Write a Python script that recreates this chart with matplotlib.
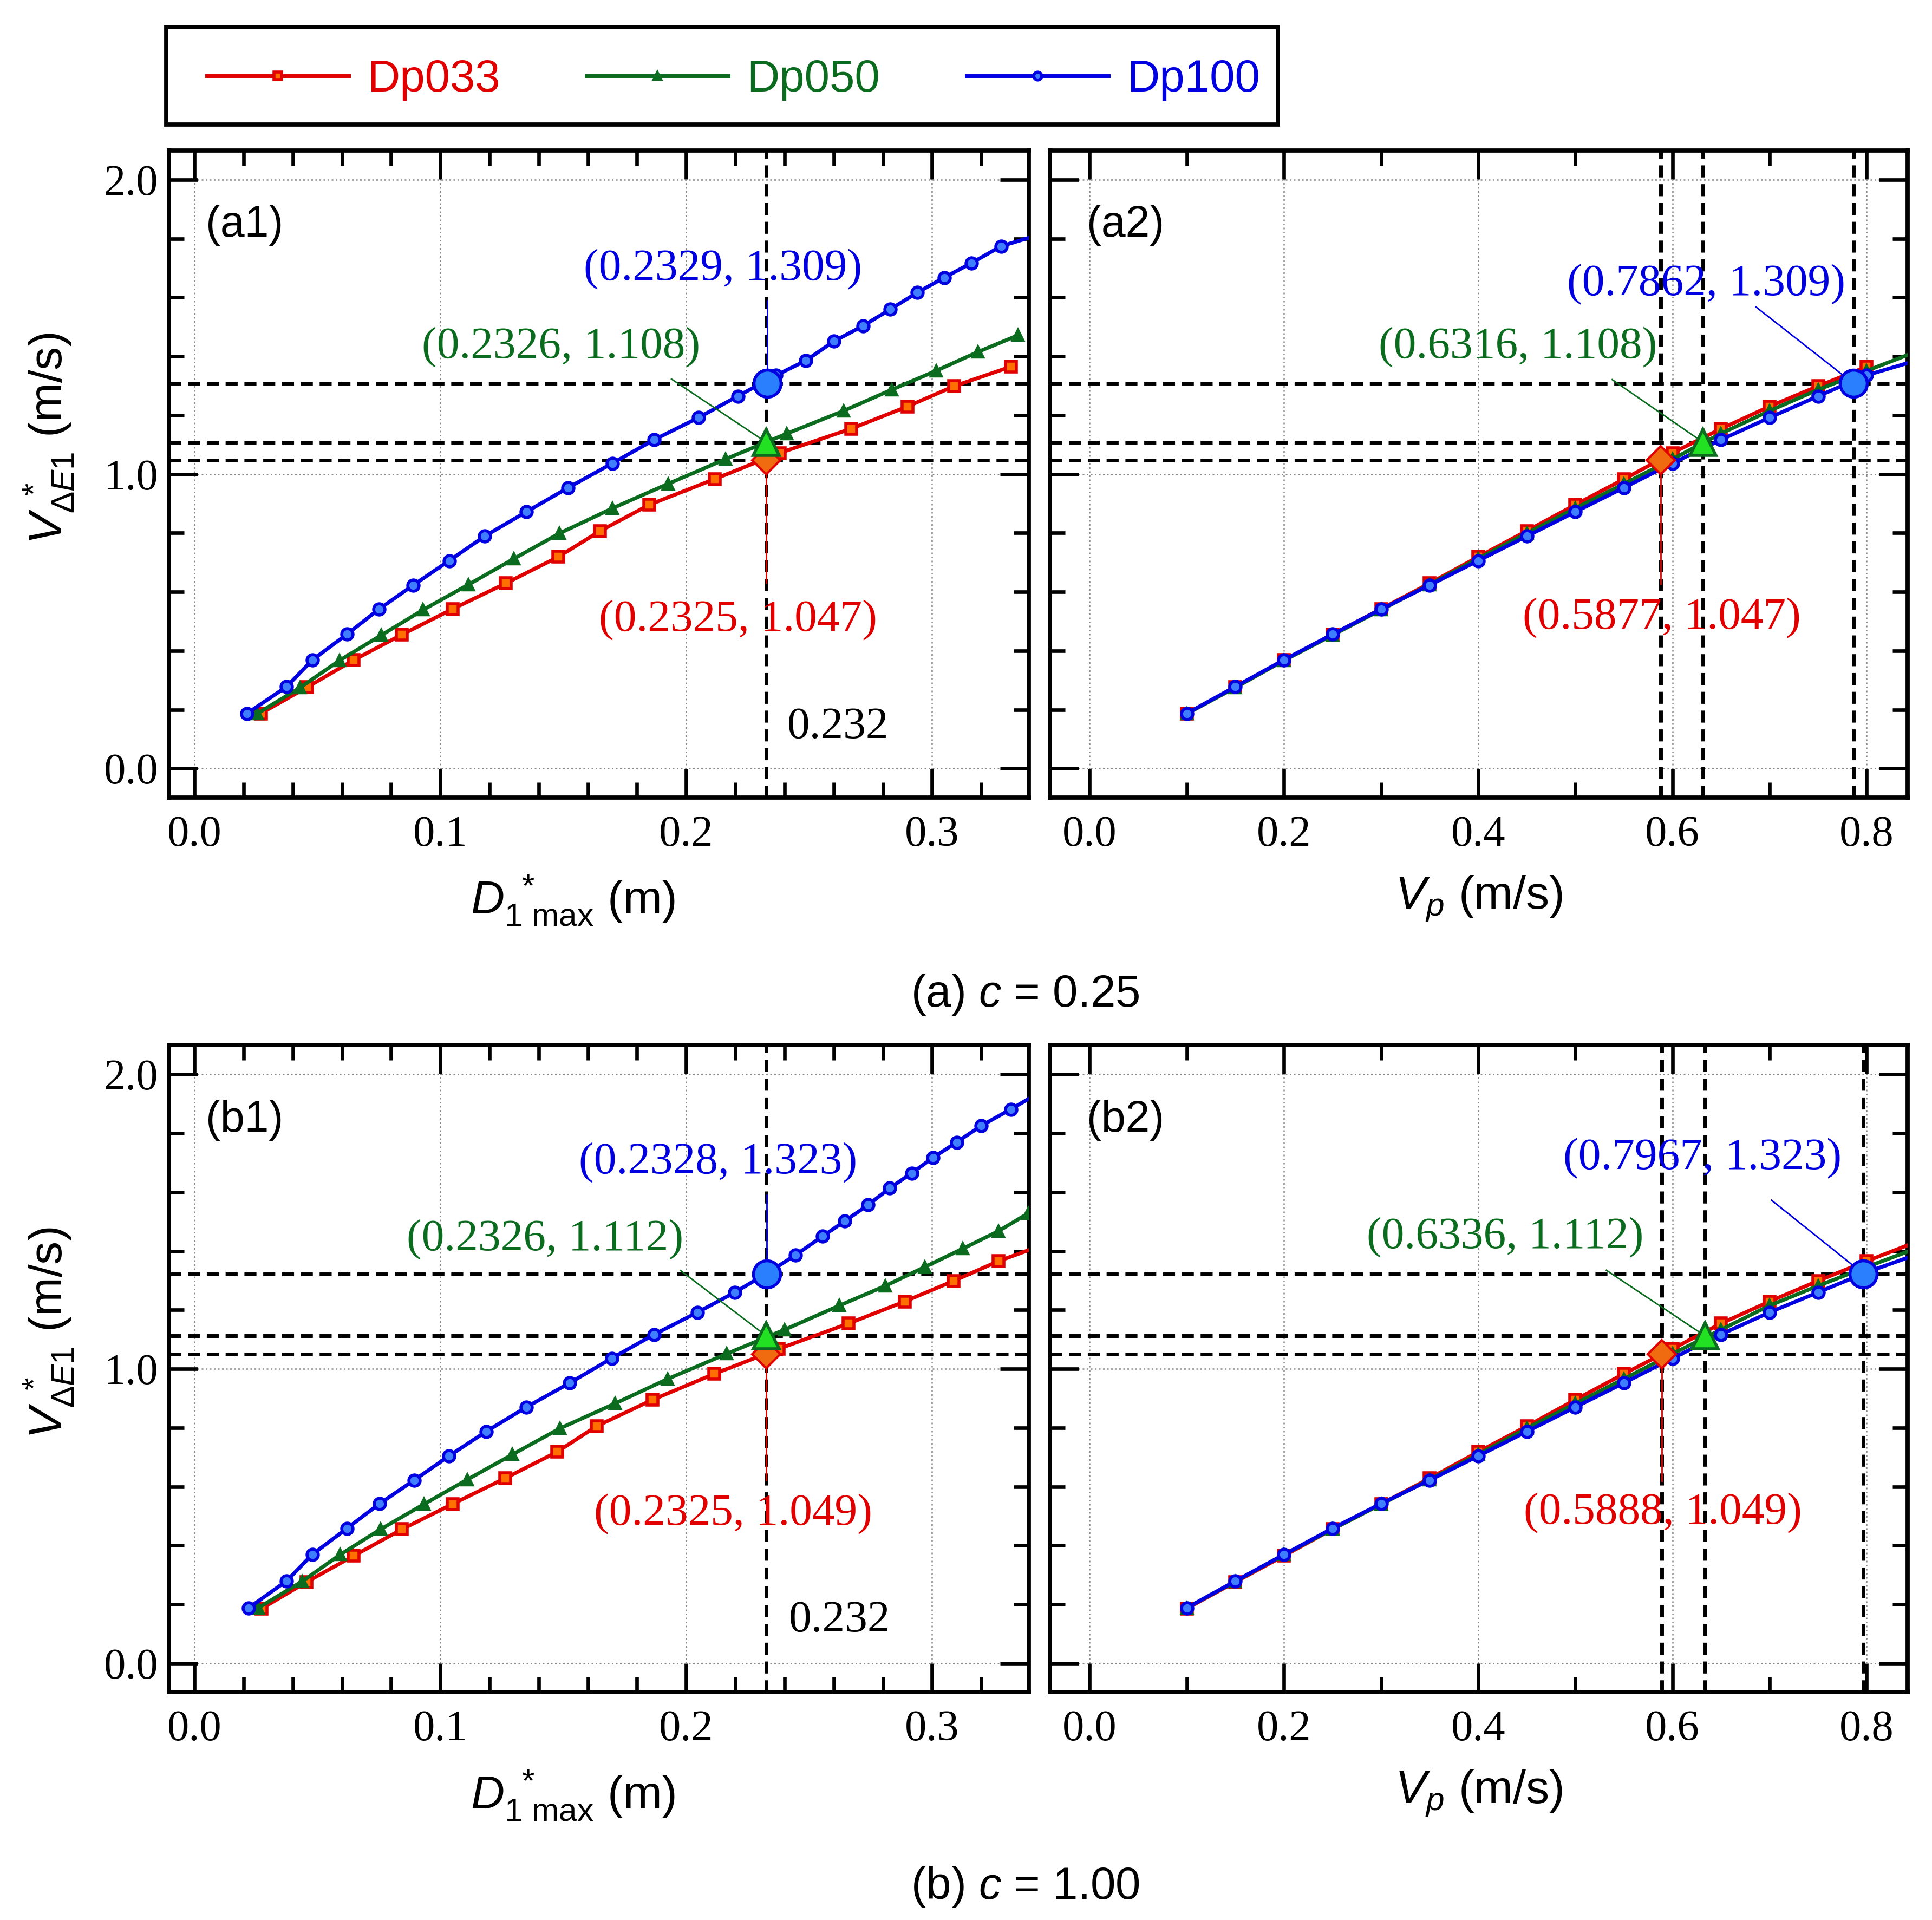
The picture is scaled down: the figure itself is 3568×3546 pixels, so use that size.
import matplotlib
matplotlib.use('Agg')
import matplotlib.pyplot as plt
from matplotlib.lines import Line2D
from matplotlib.patches import Rectangle
from matplotlib.ticker import MultipleLocator, FormatStrFormatter

# fonts: serif numbers, sans labels
plt.rcParams['font.family'] = ['Liberation Serif', 'DejaVu Serif']
plt.rcParams['mathtext.fontset'] = 'custom'
plt.rcParams['mathtext.rm'] = 'Liberation Sans'
plt.rcParams['mathtext.it'] = 'Liberation Sans:italic'
plt.rcParams['mathtext.bf'] = 'Liberation Sans:bold'

SANS = ['Liberation Sans', 'DejaVu Sans']
RED = '#e00000'
GREEN = '#0b6b1e'
BLUE = '#0000e0'

# ---------------- data: case (a) c = 0.25 ----------------
vp_r_a = [0.10, 0.15, 0.20, 0.25, 0.30, 0.35, 0.40, 0.45, 0.50, 0.55, 0.60, 0.65, 0.70, 0.75, 0.80]
v_r_a = [0.187, 0.276, 0.368, 0.455, 0.542, 0.629, 0.719, 0.807, 0.896, 0.983, 1.072, 1.154, 1.230, 1.299, 1.365]
d1_r_a = [0.0270, 0.0458, 0.0647, 0.0844, 0.1050, 0.1266, 0.1480, 0.1650, 0.1850, 0.2115, 0.2380, 0.2670, 0.2900, 0.3090, 0.3320]

vp_g_a = [0.10, 0.15, 0.20, 0.25, 0.30, 0.35, 0.40, 0.45, 0.50, 0.55, 0.60, 0.65, 0.70, 0.75, 0.80, 0.85, 0.90]
v_g_a = [0.186, 0.275, 0.367, 0.453, 0.539, 0.625, 0.713, 0.799, 0.884, 0.967, 1.051, 1.138, 1.215, 1.287, 1.351, 1.415, 1.472]
d1_g_a = [0.0255, 0.0430, 0.0590, 0.0760, 0.0930, 0.1115, 0.1300, 0.1485, 0.1700, 0.1926, 0.2160, 0.2410, 0.2640, 0.2836, 0.3016, 0.3186, 0.3350]

vp_b_a = [0.10, 0.15, 0.20, 0.25, 0.30, 0.35, 0.40, 0.45, 0.50, 0.55, 0.60, 0.65, 0.70, 0.75, 0.80, 0.85,
          0.90, 0.95, 1.00, 1.05, 1.10, 1.15, 1.20, 1.25]
v_b_a = [0.187, 0.278, 0.369, 0.456, 0.541, 0.623, 0.706, 0.789, 0.872, 0.954, 1.037, 1.117, 1.192, 1.265, 1.336, 1.385,
         1.451, 1.504, 1.560, 1.617, 1.668, 1.717, 1.774, 1.830]
d1_b_a = [0.0214, 0.0375, 0.0480, 0.0620, 0.0750, 0.0890, 0.1036, 0.1180, 0.1350, 0.1520, 0.1700, 0.1870, 0.2050, 0.2210, 0.2366, 0.2485,
          0.2600, 0.2720, 0.2830, 0.2940, 0.3050, 0.3160, 0.3280, 0.3500]

# ---------------- data: case (b) c = 1.00 ----------------
vp_r_b = [0.10, 0.15, 0.20, 0.25, 0.30, 0.35, 0.40, 0.45, 0.50, 0.55, 0.60, 0.65, 0.70, 0.75, 0.80, 0.85]
v_r_b = [0.186, 0.276, 0.365, 0.455, 0.541, 0.628, 0.718, 0.805, 0.895, 0.983, 1.068, 1.154, 1.229, 1.299, 1.366, 1.430]
d1_r_b = [0.0274, 0.0456, 0.0648, 0.0844, 0.1050, 0.1263, 0.1475, 0.1635, 0.1863, 0.2114, 0.2376, 0.2660, 0.2889, 0.3088, 0.3270, 0.3480]

vp_g_b = [0.10, 0.15, 0.20, 0.25, 0.30, 0.35, 0.40, 0.45, 0.50, 0.55, 0.60, 0.65, 0.70, 0.75, 0.80, 0.85, 0.90, 0.95]
v_g_b = [0.188, 0.278, 0.369, 0.455, 0.540, 0.624, 0.709, 0.798, 0.882, 0.966, 1.051, 1.133, 1.215, 1.282, 1.346, 1.408, 1.468, 1.528]
d1_g_b = [0.0260, 0.0438, 0.0593, 0.0757, 0.0933, 0.1110, 0.1293, 0.1487, 0.1710, 0.1925, 0.2164, 0.2400, 0.2623, 0.2810, 0.2970, 0.3124, 0.3270, 0.3390]

vp_b_b = [0.10, 0.15, 0.20, 0.25, 0.30, 0.35, 0.40, 0.45, 0.50, 0.55, 0.60, 0.65, 0.70, 0.75, 0.80, 0.85,
          0.90, 0.95, 1.00, 1.05, 1.10, 1.15, 1.20, 1.25, 1.30, 1.35]
v_b_b = [0.188, 0.279, 0.369, 0.458, 0.542, 0.622, 0.704, 0.787, 0.870, 0.952, 1.036, 1.117, 1.192, 1.260, 1.328, 1.387,
         1.450, 1.502, 1.557, 1.614, 1.665, 1.717, 1.770, 1.826, 1.882, 1.940]
d1_b_b = [0.0221, 0.0374, 0.0479, 0.0620, 0.0753, 0.0894, 0.1035, 0.1186, 0.1350, 0.1526, 0.1697, 0.1870, 0.2046, 0.2198, 0.2335, 0.2445,
          0.2554, 0.2645, 0.2740, 0.2828, 0.2917, 0.3003, 0.3100, 0.3200, 0.3320, 0.3440]

# highlighted crossing points (x, y) for Dp033, Dp050, Dp100
hit_left_a = [(0.2325, 1.047), (0.2326, 1.108), (0.2329, 1.309)]
hit_right_a = [(0.5877, 1.047), (0.6316, 1.108), (0.7862, 1.309)]
hit_left_b = [(0.2325, 1.049), (0.2326, 1.112), (0.2328, 1.323)]
hit_right_b = [(0.5888, 1.049), (0.6336, 1.112), (0.7967, 1.323)]
d1_cut = 0.2326
d1_cut_text = '0.232'

labels = ['Dp033', 'Dp050', 'Dp100']
colors = [RED, GREEN, BLUE]
small_marks = [dict(marker='s', ms=7, mfc='#ff7000', mec=RED, mew=2.0),
               dict(marker='^', ms=7, mfc=GREEN, mec=GREEN, mew=1.6),
               dict(marker='o', ms=7.5, mfc='#3f7fff', mec=BLUE, mew=2.0)]
big_marks = [dict(marker='D', ms=13, mfc='#f06a10', mec=RED, mew=1.5),
             dict(marker='^', ms=17, mfc='#22e022', mec=GREEN, mew=2.0),
             dict(marker='o', ms=18, mfc='#2a7fff', mec=BLUE, mew=2.0)]

fig = plt.figure(figsize=(17.84, 17.73), dpi=200)


def style_axes(ax, xlim, xmajor, xminor, show_y):
    """ticks inward on all sides, dotted grid on majors"""
    ax.set_xlim(*xlim)
    ax.set_ylim(-0.098, 2.1)
    ax.xaxis.set_major_locator(MultipleLocator(xmajor))
    ax.xaxis.set_minor_locator(MultipleLocator(xminor))
    ax.yaxis.set_major_locator(MultipleLocator(1.0))
    ax.yaxis.set_minor_locator(MultipleLocator(0.2))
    ax.xaxis.set_major_formatter(FormatStrFormatter('%.1f'))
    ax.yaxis.set_major_formatter(FormatStrFormatter('%.1f'))
    ax.tick_params(which='both', direction='in', top=True, right=True, width=2.4, labelsize=29)
    ax.tick_params(which='major', length=19)
    ax.tick_params(which='minor', length=10)
    ax.tick_params(axis='x', pad=12)
    ax.tick_params(axis='y', pad=7, labelleft=show_y)
    ax.grid(True, which='major', linestyle=(0, (1.2, 1.8)), color='#8a8a8a', linewidth=0.9)
    for sp in ax.spines.values():
        sp.set_linewidth(2.8)


def draw_panel(ax, xs, ys, hits, vlines, notes, leaders, tag):
    """curves, dashed guide lines, big markers and labels for one panel"""
    for y in [h[1] for h in hits]:
        ax.axhline(y, color='k', ls=(0, (3.2, 1.8)), lw=2.5, zorder=2)
    for x in vlines:
        ax.axvline(x, color='k', ls=(0, (3.2, 1.8)), lw=2.5, zorder=2)
    for i in range(3):
        ax.plot(xs[i], ys[i], color=colors[i], lw=2.5, zorder=3, **small_marks[i])
    for i in range(3):
        (x0, y0), (x1, y1) = leaders[i]
        ax.plot([x0, x1], [y0, y1], color=colors[i], lw=1.0, zorder=4)
        tx, ty = notes[i]
        ax.text(tx, ty, '(%.4f, %.3f)' % hits[i], color=colors[i], fontsize=30,
                ha='center', va='center', zorder=6)
    for i in range(3):
        ax.plot(hits[i][0], hits[i][1], zorder=5, **big_marks[i])
    ax.text(0.043, 0.884, tag, transform=ax.transAxes, fontsize=29, family=SANS,
            ha='left', va='center')


def set_labels(ax, left):
    if left:
        ax.set_xlabel(r'$D_{1\ \mathrm{max}}^{\ *}$ (m)', fontsize=31, family=SANS)
        ax.set_ylabel(r'$V_{\mathit{\Delta E1}}^{\ *}$ (m/s)', fontsize=31, family=SANS)
        ax.yaxis.set_label_coords(-0.108, 0.555)
        ax.xaxis.set_label_coords(0.47, -0.118)
    else:
        ax.set_xlabel(r'$V_p$ (m/s)', fontsize=31, family=SANS)
        ax.xaxis.set_label_coords(0.5, -0.118)


rows = [
    dict(bottom=0.5847, left_x=[d1_r_a, d1_g_a, d1_b_a], ys=[v_r_a, v_g_a, v_b_a],
         right_x=[vp_r_a, vp_g_a, vp_b_a], hl=hit_left_a, hr=hit_right_a,
         notes_l=[(0.221, 0.504), (0.149, 1.430), (0.215, 1.696)],
         lead_l=[((0.2325, 0.632), (0.2325, 1.047)), ((0.194, 1.323), (0.2326, 1.108)),
                 ((0.2329, 1.59), (0.2329, 1.309))],
         notes_r=[(0.589, 0.511), (0.441, 1.430), (0.635, 1.643)],
         lead_r=[((0.5877, 0.628), (0.5877, 1.047)), ((0.538, 1.321), (0.6316, 1.108)),
                 ((0.686, 1.568), (0.7862, 1.309))],
         tags=('(a1)', '(a2)'), cut_xy=(0.241, 0.14),
         caption='(a) $c$ = 0.25', cap_y=0.482),
    dict(bottom=0.1187, left_x=[d1_r_b, d1_g_b, d1_b_b], ys=[v_r_b, v_g_b, v_b_b],
         right_x=[vp_r_b, vp_g_b, vp_b_b], hl=hit_left_b, hr=hit_right_b,
         notes_l=[(0.219, 0.507), (0.1425, 1.438), (0.213, 1.699)],
         lead_l=[((0.2325, 0.621), (0.2325, 1.049)), ((0.1977, 1.334), (0.2326, 1.112)),
                 ((0.2328, 1.59), (0.2328, 1.323))],
         notes_r=[(0.590, 0.509), (0.428, 1.446), (0.631, 1.714)],
         lead_r=[((0.5888, 0.620), (0.5888, 1.049)), ((0.532, 1.335), (0.6336, 1.112)),
                 ((0.702, 1.573), (0.7967, 1.323))],
         tags=('(b1)', '(b2)'), cut_xy=(0.2417, 0.145),
         caption='(b) $c$ = 1.00', cap_y=0.0173),
]

for r in rows:
    # left panel: V vs D1*max
    ax1 = fig.add_axes([0.0874, r['bottom'], 0.4452, 0.3370])
    style_axes(ax1, (-0.0104, 0.3394), 0.1, 0.02, True)
    draw_panel(ax1, r['left_x'], r['ys'], r['hl'], [d1_cut], r['notes_l'], r['lead_l'], r['tags'][0])
    ax1.text(r['cut_xy'][0], r['cut_xy'][1], d1_cut_text, fontsize=30, ha='left', va='center')
    set_labels(ax1, True)

    # right panel: V vs Vp
    ax2 = fig.add_axes([0.5434, r['bottom'], 0.4439, 0.3370])
    style_axes(ax2, (-0.041, 0.842), 0.2, 0.1, False)
    draw_panel(ax2, r['right_x'], r['ys'], r['hr'], [h[0] for h in r['hr']], r['notes_r'], r['lead_r'], r['tags'][1])
    set_labels(ax2, False)

    fig.text(0.5306, r['cap_y'], r['caption'], fontsize=30, family=SANS, ha='center', va='center')

# legend across the top: own frame, entries placed inside it
fig.patches.append(Rectangle((0.0861, 0.9352), 0.5753, 0.0507, transform=fig.transFigure,
                             fill=False, edgecolor='k', linewidth=2.8))
handles = [Line2D([], [], color=colors[i], lw=2.5,
                  **dict(small_marks[i], ms=small_marks[i]['ms'] * 0.7)) for i in range(3)]
leg = fig.legend(handles, labels, loc='center left', ncol=3, frameon=False,
                 bbox_to_anchor=(0.1071, 0.9585), borderaxespad=0, borderpad=0,
                 prop={'family': SANS, 'size': 30}, labelcolor=colors,
                 handlelength=3.14, handletextpad=0.41, columnspacing=1.92)

fig.savefig('out.png', dpi=200)
